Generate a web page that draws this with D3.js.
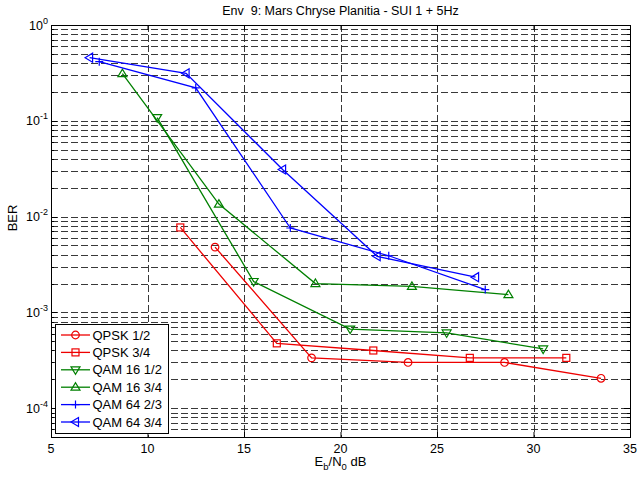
<!DOCTYPE html>
<html>
<head>
<meta charset="utf-8">
<script src="https://cdn.jsdelivr.net/npm/d3@7"></script>
<style>
body { margin: 0; background: #fff; }
text { font-family: "Liberation Sans", Arial, sans-serif; white-space: pre; }
</style>
</head>
<body>
<div id="chart"></div>
<script>
// series values (Eb/N0 in dB, BER)
var qpsk12X = [13.5, 18.5, 23.5, 28.5, 33.5];
var qpsk12Y = [4.8e-3, 3.35e-4, 3.0e-4, 3.0e-4, 2.05e-4];
var qpsk34X = [11.7, 16.7, 21.7, 26.7, 31.7];
var qpsk34Y = [7.7e-3, 4.75e-4, 4.0e-4, 3.35e-4, 3.35e-4];
var qam16_12X = [10.5, 15.5, 20.5, 25.5, 30.5];
var qam16_12Y = [0.108, 2.1e-3, 6.7e-4, 6.1e-4, 4.15e-4];
var qam16_34X = [8.7, 13.7, 18.7, 23.7, 28.7];
var qam16_34Y = [0.31, 1.35e-2, 2.0e-3, 1.87e-3, 1.53e-3];
var qam64_23X = [7.5, 12.5, 17.4, 22.5, 27.5];
var qam64_23Y = [0.414, 0.221, 7.6e-3, 3.9e-3, 1.73e-3];
var qam64_34X = [7.0, 12.0, 17.0, 21.9, 27.0];
var qam64_34Y = [0.456, 0.313, 0.031, 3.85e-3, 2.33e-3];

var names = ["QPSK 1/2", "QPSK 3/4", "QAM 16 1/2", "QAM 16 3/4", "QAM 64 2/3", "QAM 64 3/4"];
var colors = ["#ee0000", "#ee0000", "#008000", "#008000", "#0000ff", "#0000ff"];
var markers = ["circle", "square", "tridown", "triup", "plus", "trileft"];
var xTicks = [5, 10, 15, 20, 25, 30, 35];
var yDecades = [-4, -3, -2, -1, 0];

var title = "Env  9: Mars Chryse Planitia - SUI 1 + 5Hz";

var xs = [qpsk12X, qpsk34X, qam16_12X, qam16_34X, qam64_23X, qam64_34X];
var ys = [qpsk12Y, qpsk34Y, qam16_12Y, qam16_34Y, qam64_23Y, qam64_34Y];
var series = names.map(function(n, i) {
  return { name: n, color: colors[i], marker: markers[i],
    values: xs[i].map(function(x, j) { return { x: x, y: ys[i][j] }; }) };
});

var W = 637, H = 477;
var pL = 51, pR = 630, pT = 25, pB = 437;

var svg = d3.select("#chart").append("svg")
  .attr("width", W).attr("height", H);

svg.append("rect").attr("width", W).attr("height", H).attr("fill", "#fff");

var x = d3.scaleLinear().domain([5, 35]).range([pL, pR]);
var y = d3.scaleLog().domain([5e-5, 1]).range([pB, pT]);

// minor values for log axis
var yMinor = [];
for (var e = -5; e <= -1; e++) {
  for (var k = 1; k <= 9; k++) {
    var v = k * Math.pow(10, e);
    if (v >= 5e-5 && v < 1) yMinor.push(v);
  }
}

// grid
var grid = svg.append("g").attr("stroke", "#222").attr("stroke-width", 0.9)
  .attr("stroke-dasharray", "7,3").attr("fill", "none");
grid.selectAll(".hg").data(yMinor.filter(function(v) { return v > 5e-5; }))
  .enter().append("line")
  .attr("x1", pL).attr("x2", pR)
  .attr("y1", function(d) { return Math.round(y(d)) + 0.5; })
  .attr("y2", function(d) { return Math.round(y(d)) + 0.5; });
grid.selectAll(".vg").data(xTicks.slice(1, -1))
  .enter().append("line")
  .attr("y1", pT).attr("y2", pB)
  .attr("x1", function(d) { return Math.round(x(d)) + 0.5; })
  .attr("x2", function(d) { return Math.round(x(d)) + 0.5; });

// axes with inward ticks on all four sides
function logTickLen(d) {
  var m = d / Math.pow(10, Math.floor(Math.log10(d) + 1e-9));
  return Math.abs(m - 1) < 1e-6 ? 6 : 3;
}
var yAll = yMinor.concat([1]);

svg.append("g")
  .attr("transform", "translate(0," + pB + ")")
  .call(d3.axisBottom(x).tickValues(xTicks).tickSizeInner(-5).tickSizeOuter(0).tickFormat(""))
  .call(function(g) { g.select(".domain").remove(); });
svg.append("g")
  .attr("transform", "translate(0," + pT + ")")
  .call(d3.axisTop(x).tickValues(xTicks).tickSizeInner(-5).tickSizeOuter(0).tickFormat(""))
  .call(function(g) { g.select(".domain").remove(); });

var yl = svg.append("g").attr("transform", "translate(" + pL + ",0)");
yl.selectAll("line").data(yAll).enter().append("line")
  .attr("stroke", "#000")
  .attr("x1", 0).attr("x2", function(d) { return logTickLen(d); })
  .attr("y1", function(d) { return Math.round(y(d)) + 0.5; })
  .attr("y2", function(d) { return Math.round(y(d)) + 0.5; });
var yr = svg.append("g").attr("transform", "translate(" + pR + ",0)");
yr.selectAll("line").data(yAll).enter().append("line")
  .attr("stroke", "#000")
  .attr("x1", 0).attr("x2", function(d) { return -logTickLen(d); })
  .attr("y1", function(d) { return Math.round(y(d)) + 0.5; })
  .attr("y2", function(d) { return Math.round(y(d)) + 0.5; });

svg.append("rect")
  .attr("x", pL + 0.5).attr("y", pT + 0.5)
  .attr("width", pR - pL).attr("height", pB - pT)
  .attr("fill", "none").attr("stroke", "#000");

// tick labels
svg.append("g").selectAll("text").data(xTicks).enter().append("text")
  .attr("x", function(d) { return x(d); })
  .attr("y", pB + 15.5)
  .attr("text-anchor", "middle")
  .attr("font-size", 12.5)
  .text(function(d) { return d; });

var ylab = svg.append("g").selectAll("text").data(yDecades).enter().append("text")
  .attr("y", function(d) { return y(Math.pow(10, d)) + 4.5; })
  .attr("x", function(d) { return d < 0 ? pL - 25 : pL - 22; })
  .attr("font-size", 12.5);
ylab.append("tspan").text("10");
ylab.append("tspan").attr("dy", -6).attr("font-size", 9).text(function(d) { return d; });

// titles
svg.append("text")
  .attr("x", (pL + pR) / 2).attr("y", 15)
  .attr("text-anchor", "middle").attr("font-size", 12.5)
  .text(title);

var xl = svg.append("text")
  .attr("x", (pL + pR) / 2).attr("y", 466)
  .attr("text-anchor", "middle").attr("font-size", 13);
xl.append("tspan").text("E");
xl.append("tspan").attr("dy", 4).attr("font-size", 9.5).text("b");
xl.append("tspan").attr("dy", -4).text("/N");
xl.append("tspan").attr("dy", 4).attr("font-size", 9.5).text("0");
xl.append("tspan").attr("dy", -4).text(" dB");

svg.append("text")
  .attr("transform", "translate(17,218) rotate(-90)")
  .attr("text-anchor", "middle").attr("font-size", 13)
  .text("BER");

// markers
function drawMarker(g, type, color) {
  var s = 4;
  if (type == "circle") {
    g.append("circle").attr("r", 3.8);
  } else if (type == "square") {
    g.append("rect").attr("x", -3.5).attr("y", -3.5).attr("width", 7).attr("height", 7);
  } else if (type == "tridown") {
    g.append("path").attr("d", "M-4.5,-3L4.5,-3L0,4.5Z");
  } else if (type == "triup") {
    g.append("path").attr("d", "M-4.5,3L4.5,3L0,-4.5Z");
  } else if (type == "trileft") {
    g.append("path").attr("d", "M3,-4.5L3,4.5L-4.5,0Z");
  } else if (type == "plus") {
    g.append("path").attr("d", "M-" + s + ",0H" + s + "M0,-" + s + "V" + s);
  }
  g.selectAll("*").attr("fill", "none").attr("stroke", color).attr("stroke-width", 1.2);
}

var line = d3.line().x(function(d) { return x(d.x); }).y(function(d) { return y(d.y); });

var plot = svg.append("g");
series.forEach(function(s) {
  plot.append("path").datum(s.values)
    .attr("fill", "none").attr("stroke", s.color).attr("stroke-width", 1.3)
    .attr("d", line);
  s.values.forEach(function(p) {
    var g = plot.append("g").attr("transform", "translate(" + x(p.x) + "," + y(p.y) + ")");
    drawMarker(g, s.marker, s.color);
  });
});

// legend
var lg = svg.append("g").attr("transform", "translate(55,324)");
lg.append("rect").attr("x", 0.5).attr("y", 0.5).attr("width", 113).attr("height", 109)
  .attr("fill", "#fff").attr("stroke", "#000");
series.forEach(function(s, i) {
  var yy = 11 + i * 17.4;
  lg.append("line").attr("x1", 6).attr("x2", 35).attr("y1", yy).attr("y2", yy)
    .attr("stroke", s.color).attr("stroke-width", 1.3);
  var g = lg.append("g").attr("transform", "translate(20.5," + yy + ")");
  drawMarker(g, s.marker, s.color);
  lg.append("text").attr("x", 37.5).attr("y", yy + 4.5).attr("font-size", 13).text(s.name);
});
</script>
</body>
</html>
